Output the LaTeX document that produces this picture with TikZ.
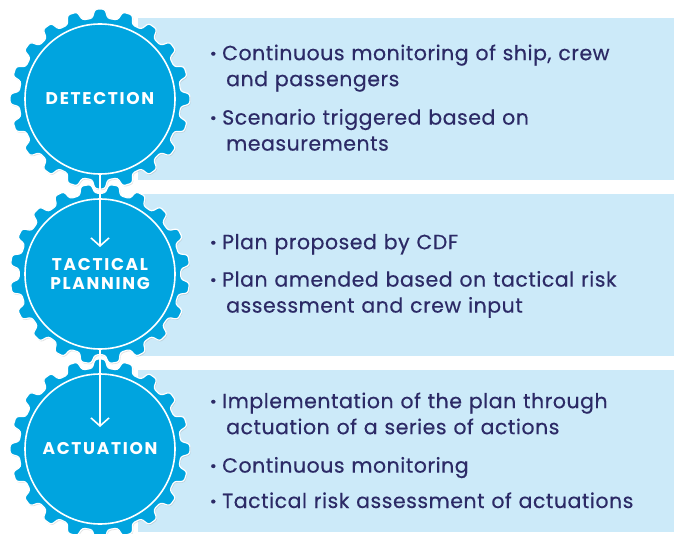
\documentclass[tikz,border=0pt]{standalone}
\usepackage{fontspec}
\setmainfont{Poppins}
\usetikzlibrary{positioning,arrows.meta,shadows}
\definecolor{gearblue}{HTML}{00A4DF}
\definecolor{boxblue}{HTML}{CCEAF9}
\definecolor{textnavy}{HTML}{2C2A66}
\tikzset{
  gear/.pic={
    \fill[gearblue, draw=white, line width=1.2pt, rounded corners=2.5pt,
          drop shadow={opacity=0.25, shadow xshift=0.8pt, shadow yshift=-1.2pt}]
      (-9:81) \foreach \t in {0,18,...,342} {
        -- (\t-5.5:81) -- (\t-3.2:90) -- (\t+3.2:90) -- (\t+5.5:81)
      } -- cycle;
  },
  hub/.style={circle, minimum size=150pt, inner sep=0pt, fill=gearblue,
    draw=white, line width=1.6pt, text=white, align=center,
    font=\fontsize{17}{19.5}\selectfont\bfseries\addfontfeature{LetterSpace=10}},
  bul/.style={anchor=north west, inner sep=0pt, text width=450pt, align=left,
    text=textnavy, font=\fontsize{20.5}{26}\selectfont\addfontfeature{LetterSpace=2.5,FakeBold=0.4}},
  flow/.style={draw=white, line width=1.6pt, -{Straight Barb[length=8pt,width=18pt]}}
}
\newcommand{\dotitem}{\makebox[12pt][l]{\bfseries·}}
\newcommand{\contline}{\\\hspace*{16pt}}
\begin{document}
\begin{tikzpicture}[x=1pt,y=-1pt]
\useasboundingbox (0,0) rectangle (674,534);

% text panels
\fill[boxblue] (138,18) rectangle (674,180);
\fill[boxblue] (138,194) rectangle (674,356);
\fill[boxblue] (138,370) rectangle (674,532);

% gears
\pic at (100,99) {gear};
\node[hub] (detect) at (100,99) {DETECTION};
\pic[rotate=9] at (100,274) {gear};
\node[hub] (plan) at (100,274) {TACTICAL\\PLANNING};
\pic at (100,449) {gear};
\node[hub] (act) at (100,449) {ACTUATION};

% arrows between the stages
\draw[flow, shorten >=27pt] (detect.south) -- (plan.center);
\draw[flow, shorten >=22pt] (plan.south) -- (act.center);

% detection bullets
\node[bul] (d1) at (210,41.8) {\strut\dotitem Continuous monitoring of ship, crew\contline and passengers\strut};
\node[bul, below=12pt of d1] (d2) {\strut\dotitem Scenario triggered based on\contline measurements\strut};

% tactical planning bullets
\node[bul] (p1) at (210,230.8) {\strut\dotitem Plan proposed by CDF\strut};
\node[bul, below=11pt of p1] (p2) {\strut\dotitem Plan amended based on tactical risk\contline assessment and crew input\strut};

% actuation bullets
\node[bul] (a1) at (210,389.8) {\strut\dotitem Implementation of the plan through\contline actuation of a series of actions\strut};
\node[bul, below=12pt of a1] (a2) {\strut\dotitem Continuous monitoring\strut};
\node[bul, below=9pt of a2] (a3) {\strut\dotitem Tactical risk assessment of actuations\strut};
\end{tikzpicture}
\end{document}
